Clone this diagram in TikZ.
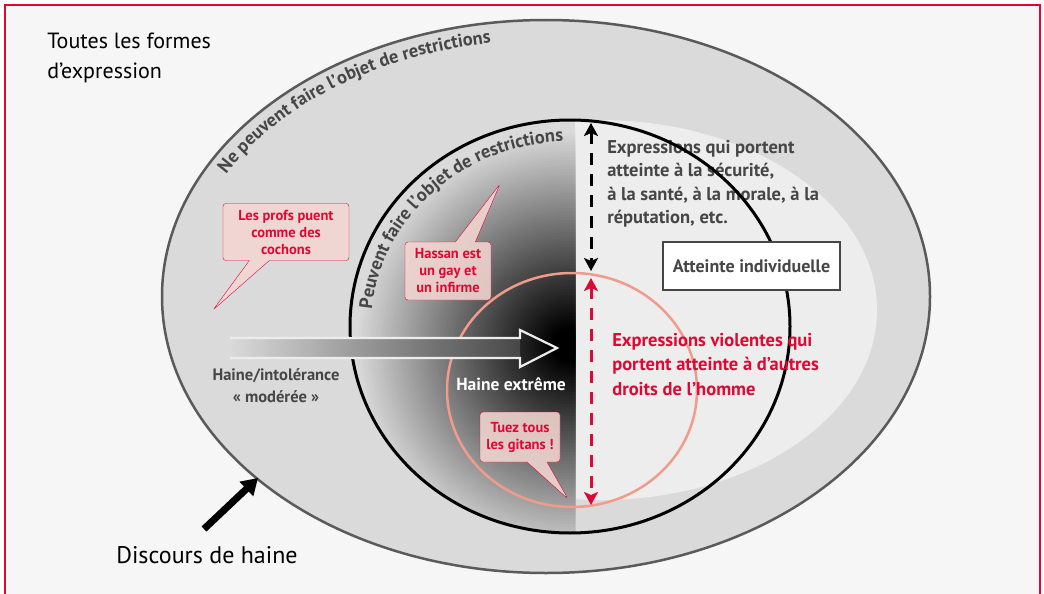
\documentclass[tikz,border=0pt]{standalone}
\usepackage{fontspec}
\setmainfont{PT Sans}
\usepackage{tikz}
\usetikzlibrary{arrows,arrows.meta,positioning,calc,shapes.callouts,decorations.text}
\definecolor{hatered}{RGB}{222,8,52}
\definecolor{bubblepink}{RGB}{243,214,209}
\definecolor{labelgray}{RGB}{70,70,70}
\definecolor{ringgray}{RGB}{90,90,90}
\definecolor{outerfill}{RGB}{218,218,218}
\definecolor{innerfill}{RGB}{237,237,237}
\definecolor{pagebg}{RGB}{246,246,246}
\definecolor{salmon}{RGB}{241,155,140}
\newcommand*{\fsz}[2]{\fontsize{#1}{#2}\selectfont}

\begin{document}
\begin{tikzpicture}[x=1pt, y=-1pt, >=stealth', semithick]
    \tikzstyle{bubble}=[rectangle callout, draw=hatered, thin, fill=bubblepink, fill opacity=.88, text opacity=1, rounded corners=3pt, text=hatered, align=center, font=\fsz{14.5}{17}\bfseries, inner sep=2pt, callout pointer width=20pt]
    \tikzstyle{grey text}=[text=labelgray, font=\fsz{18.5}{23.5}\bfseries, align=left, inner sep=0pt]
    \tikzstyle{dash line}=[line width=3pt, dash pattern=on 12pt off 9pt, {Stealth[length=13pt,width=14pt,inset=3pt]}-{Stealth[length=13pt,width=14pt,inset=3pt]}]
    \useasboundingbox (0,0) rectangle (1044,594);
    % background and frame
    \fill[pagebg] (5,5) rectangle (1040,600);
    \draw[hatered, line width=1.5pt] (5,600) -- (5,5) -- (1040,5) -- (1040,600);
    % outer ellipse
    \draw[ringgray, fill=outerfill, line width=2.5pt] (546,296.5) ellipse [x radius=384, y radius=276.5];
    % light area on the right
    \begin{scope}
        \clip (575,0) rectangle (1000,594);
        \fill[innerfill] (600,310) ellipse [x radius=277, y radius=190];
    \end{scope}
    % dark haze on the left
    \begin{scope}
        \clip (570,326.5) ellipse [x radius=220, y radius=206.5];
        \clip (300,100) rectangle (575,540);
        \foreach \i in {0,...,70} {
            \pgfmathsetmacro\r{215-3*\i}
            \pgfmathsetmacro\p{max(0,min(100,(\r-18)/197*100))}
            \fill[outerfill!\p!black] (570,345) circle [radius=\r];
        }
    \end{scope}
    \path[decorate, decoration={text along path, text align=center,
        text={|\fsz{18.5}{20}\bfseries\color{labelgray}|Ne peuvent faire l’objet de restrictions}}]
        (546,296.5) ++(-174:364 and 256.5) arc[start angle=-174, end angle=-82, x radius=364, y radius=256.5];
    \path[decorate, decoration={text along path, text align=center,
        text={|\fsz{18.5}{20}\bfseries\color{labelgray}|Peuvent faire l’objet de restrictions}}]
        (570,326.5) ++(-180:199 and 185) arc[start angle=-180, end angle=-87, x radius=199, y radius=185];
    \node[grey text, anchor=north west] (securite) at (607,140)
        {Expressions qui portent\\atteinte à la sécurité,\\à la santé, à la morale, à la\\réputation, etc.};
    \draw[line width=3pt] (570,326.5) ellipse [x radius=220, y radius=206.5];
    \draw[salmon, line width=2.5pt] (572,390) ellipse [x radius=125, y radius=117];

    % hate scale arrow
    \coordinate (tail) at (230,348);
    \coordinate (tip) at (557,348);
    \shade[left color=outerfill, right color=black!72] (230,338) rectangle (520,358);
    \draw[white!85!gray, line width=2.2pt, line join=miter]
        (230,338) -- (520,338) -- (520,330) -- (tip) -- (520,367) -- (520,358) -- (230,358);

    % scope arrows
    \coordinate (ceil) at (591,123);
    \coordinate (mid top) at (591,271);
    \coordinate (mid bot) at (591,278);
    \coordinate (floor) at (591,505);
    \draw[dash line] (ceil) -- (mid top);
    \draw[dash line, hatered] (mid bot) -- (floor);

    \node[draw=labelgray, line width=2.3pt, fill=white, minimum width=177pt, minimum height=48pt,
        text=labelgray, font=\fsz{18}{20}\bfseries] (individuelle) at (751.5,266) {Atteinte individuelle};
    \node[anchor=north west, text=hatered, font=\fsz{18.5}{24.5}\bfseries, align=left, inner sep=0pt]
        (violent) at (612,333) {Expressions violentes qui\\portent atteinte à d’autres\\droits de l’homme};
    \node[text=white, font=\fsz{17.5}{18}\bfseries] (extreme) at (511,384) {Haine extrême};
    \node[text=labelgray, font=\fsz{16.5}{22}\bfseries, align=center] (moderee) at (276,386)
        {Haine/intolérance\\«~modérée~»};

    % speech bubbles
    \node[bubble, minimum width=126pt, minimum height=57pt, callout absolute pointer={(213,310)}]
        (profs) at (286,232) {Les profs puent\\comme des\\cochons};
    \node[bubble, minimum width=86pt, minimum height=58pt, callout absolute pointer={(500,184)}]
        (hassan) at (448,271) {Hassan est\\un gay et\\un infirme};
    \node[bubble, minimum width=80pt, minimum height=50pt, callout absolute pointer={(568,499)}]
        (gitans) at (520,437) {Tuez tous\\les gitans !};

    % labels outside
    \node[anchor=north west, align=left, font=\fsz{22}{30}, inner sep=0pt] (toutes) at (47,33)
        {Toutes les formes\\d’expression};
    \node[font=\fsz{24}{26}, inner sep=0pt] (discours) at (207,555) {Discours de haine};
    \coordinate (start) at (204,529);
    \coordinate (hit) at (258,478);
    \draw[line width=7pt, -{Triangle[length=16pt,width=19pt]}] (start) -- (hit);
\end{tikzpicture}
\end{document}
